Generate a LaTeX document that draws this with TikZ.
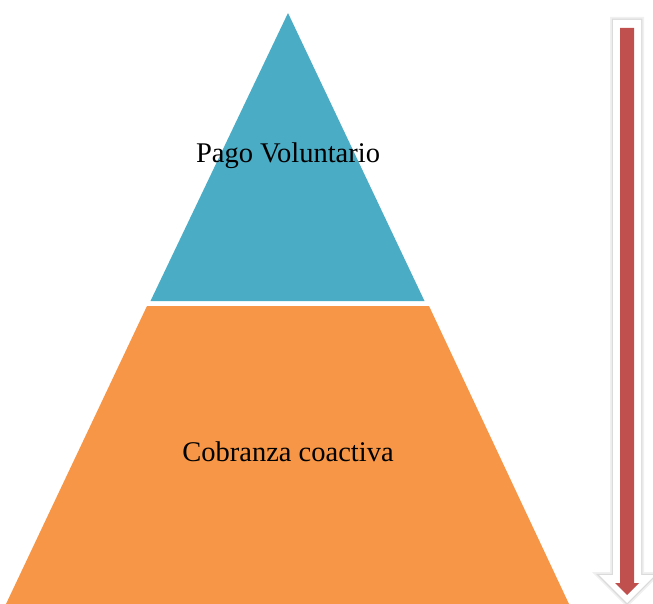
\documentclass[tikz,border=0pt]{standalone}
\usepackage{fontspec}
\setmainfont{Liberation Serif}
\definecolor{pyrblue}{HTML}{4BACC6}
\definecolor{pyrorange}{HTML}{F79646}
\definecolor{arrred}{HTML}{C0504D}
\tikzset{
  lbl/.style={font=\fontsize{28.5}{34}\selectfont, text=black, inner sep=0pt},
}
\begin{document}
\begin{tikzpicture}[x=1pt,y=-1pt]
\useasboundingbox (0,0) rectangle (653,604);
% pyramid
\fill[pyrblue] (288,13) -- (424.5,301) -- (150.5,301) -- cycle;
\fill[pyrorange] (147,306) -- (429,306) -- (569,604) -- (6,604) -- cycle;
\node[lbl] (top) at (288,156) {Pago Voluntario};
\node[lbl] (bottom) at (288,452) {Cobranza coactiva};
% arrow shadow
\draw[gray!12, line width=6pt, line join=miter]
  (613,20) -- (641,20) -- (641,575) -- (655,575) -- (627,603) -- (599,575) -- (613,575) -- cycle;
\draw[gray!28, line width=2.5pt, line join=miter]
  (613,20) -- (641,20) -- (641,575) -- (655,575) -- (627,603) -- (599,575) -- (613,575) -- cycle;
\fill[white]
  (613,20) -- (641,20) -- (641,575) -- (655,575) -- (627,603) -- (599,575) -- (613,575) -- cycle;
% red arrow
\fill[arrred] (620,28) -- (634,28) -- (634,583) -- (639,583) -- (627,595) -- (615,583) -- (620,583) -- cycle;
\end{tikzpicture}
\end{document}
